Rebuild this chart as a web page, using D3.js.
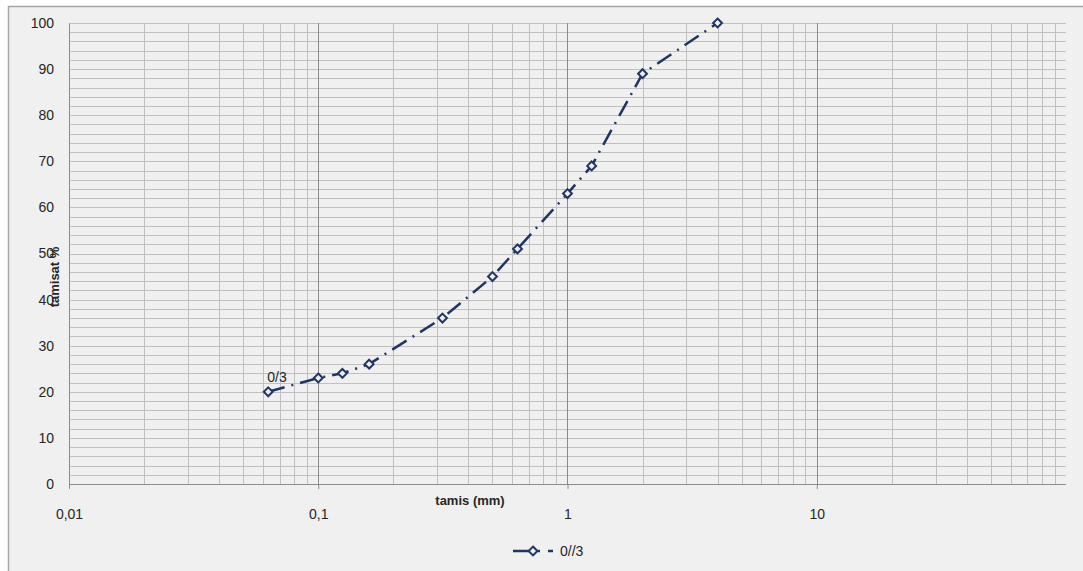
<!DOCTYPE html>
<html>
<head>
<meta charset="utf-8">
<script src="https://cdn.jsdelivr.net/npm/d3@7"></script>
<style>
  html, body { margin: 0; padding: 0; background: #ffffff; }
  svg { display: block; }
  text { font-family: "Liberation Sans", Arial, sans-serif; fill: #262626; }
</style>
</head>
<body>
<svg id="chart" width="1083" height="571"></svg>
<script>
// ---- data ----
const sieveSizes = [0.063, 0.1, 0.125, 0.16, 0.315, 0.5, 0.63, 1, 1.25, 2, 4];
const passing    = [20, 23, 24, 26, 36, 45, 51, 63, 69, 89, 100];
const seriesName = "0//3";
const pointLabel = "0/3";
const xTickValues = [0.01, 0.1, 1, 10];
const xTickLabels = ["0,01", "0,1", "1", "10"];
const yTickValues = [0, 10, 20, 30, 40, 50, 60, 70, 80, 90, 100];
const xTitle = "tamis (mm)";
const yTitle = "tamisat %";

const svg = d3.select("#chart");
const W = 1083, H = 571;

// frame
svg.append("rect").attr("x", 8.5).attr("y", 6.5).attr("width", W).attr("height", H)
  .attr("fill", "#f0f0f0").attr("stroke", "#a6a6a6").attr("stroke-width", 1.5);

const x = d3.scaleLog().domain([0.01, 100]).range([69, 1066]);
const y = d3.scaleLinear().domain([0, 100]).range([484, 23]);

const g = svg.append("g");

// horizontal grid every 2
const hVals = d3.range(2, 101, 2);
g.selectAll("line.h").data(hVals).join("line")
  .attr("x1", x(0.01)).attr("x2", x(100))
  .attr("y1", d => Math.round(y(d)) + 0.5).attr("y2", d => Math.round(y(d)) + 0.5)
  .attr("stroke", "#c0c0c0").attr("stroke-width", 1);

// vertical minor grid
const minor = [];
[0.01, 0.1, 1, 10].forEach(dec => { for (let k = 2; k <= 9; k++) minor.push(+(k * dec).toPrecision(3)); });
g.selectAll("line.vm").data(minor).join("line")
  .attr("x1", d => Math.round(x(d)) + 0.5).attr("x2", d => Math.round(x(d)) + 0.5)
  .attr("y1", y(0)).attr("y2", y(100))
  .attr("stroke", "#c0c0c0").attr("stroke-width", 1);

// vertical major grid
g.selectAll("line.vM").data([0.1, 1, 10]).join("line")
  .attr("x1", d => Math.round(x(d)) + 0.5).attr("x2", d => Math.round(x(d)) + 0.5)
  .attr("y1", y(0)).attr("y2", y(100))
  .attr("stroke", "#8c8c8c").attr("stroke-width", 1);

// x axis
const xAxis = d3.axisBottom(x).tickValues(xTickValues)
  .tickFormat((d, i) => xTickLabels[i]).tickSize(5).tickPadding(20);
const gx = svg.append("g").attr("transform", `translate(0,${y(0)})`).call(xAxis);
gx.select(".domain").attr("stroke", "#8c8c8c").attr("d", `M${x(0.01)},0.5H${x(100)}`);
gx.selectAll(".tick line").attr("stroke", "#8c8c8c");
gx.selectAll(".tick text").attr("font-size", 14).attr("fill", "#262626")
  .attr("font-family", "Liberation Sans, Arial, sans-serif");

// y axis
const yAxis = d3.axisLeft(y).tickValues(yTickValues).tickSize(0).tickPadding(15);
const gy = svg.append("g").attr("transform", `translate(${x(0.01)},0)`).call(yAxis);
gy.select(".domain").attr("stroke", "#8c8c8c");
gy.selectAll(".tick text").attr("font-size", 14).attr("fill", "#262626")
  .attr("font-family", "Liberation Sans, Arial, sans-serif");

// axis titles
svg.append("text").attr("x", 470).attr("y", 505).attr("text-anchor", "middle")
  .attr("font-size", 13).attr("font-weight", "bold").text(xTitle);
svg.append("text").attr("transform", `translate(59,277) rotate(-90)`)
  .attr("text-anchor", "middle").attr("font-size", 13).attr("font-weight", "bold").text(yTitle);

// series
const color = "#1f3566";
const dash = "17,7,2,7";
const pts = sieveSizes.map((s, i) => [s, passing[i]]);
const line = d3.line().x(d => x(d[0])).y(d => y(d[1]));
svg.append("path").datum(pts).attr("d", line)
  .attr("fill", "none").attr("stroke", color).attr("stroke-width", 2.5)
  .attr("stroke-dasharray", dash);

const diamond = d3.symbol().type(d3.symbolDiamond2).size(50);
svg.selectAll("path.mk").data(pts).join("path")
  .attr("transform", d => `translate(${x(d[0])},${y(d[1])})`)
  .attr("d", diamond).attr("fill", "#f0f0f0").attr("stroke", color).attr("stroke-width", 2);

// data label on first point
svg.append("text").attr("x", x(sieveSizes[0]) - 1).attr("y", y(passing[0]) - 10)
  .attr("font-size", 14).text(pointLabel);

// legend
const ly = 551;
svg.append("line").attr("x1", 513).attr("x2", 557).attr("y1", ly).attr("y2", ly)
  .attr("stroke", color).attr("stroke-width", 2.5).attr("stroke-dasharray", "20,5,2,8,5,50");
svg.append("path").attr("transform", `translate(533,${ly})`).attr("d", diamond)
  .attr("fill", "#f0f0f0").attr("stroke", color).attr("stroke-width", 2);
svg.append("text").attr("x", 560).attr("y", ly + 5).attr("font-size", 14).text(seriesName);
</script>
</body>
</html>
